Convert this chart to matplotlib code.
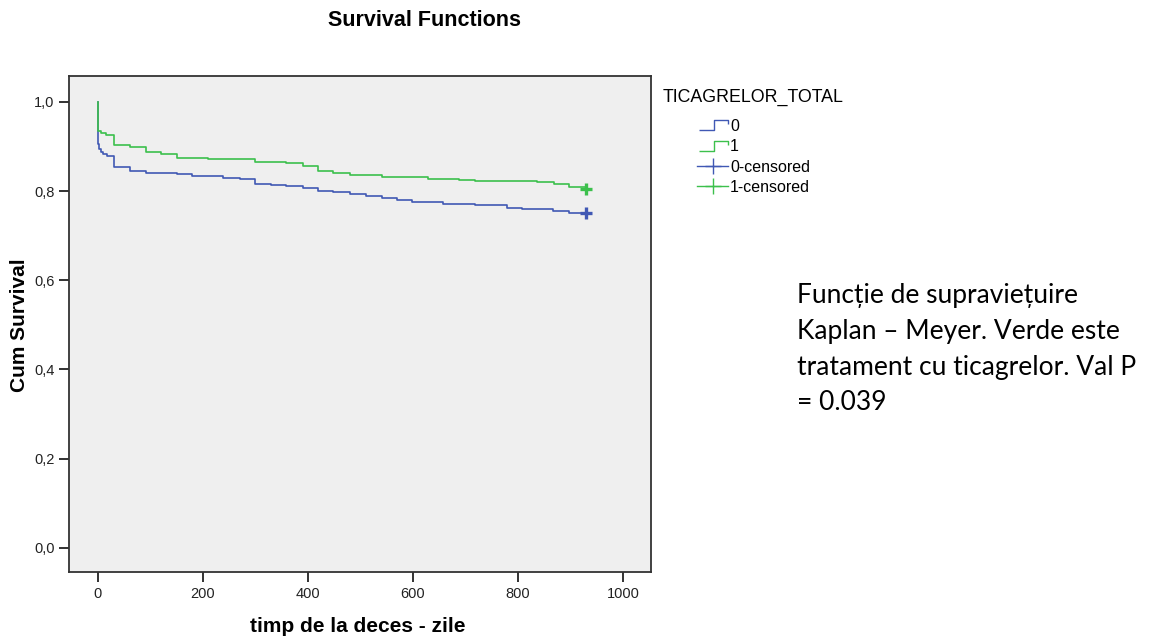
import matplotlib
matplotlib.use("Agg")
import matplotlib.pyplot as plt
from matplotlib.lines import Line2D
from matplotlib.path import Path
from matplotlib.ticker import FuncFormatter

# Kaplan-Meier steps (day, cumulative survival after event)
days_0 = [0, 0, 1, 3, 6, 10, 17, 30, 61, 91, 150, 180, 238, 270, 299, 330, 359,
          390, 419, 448, 480, 510, 540, 570, 598, 657, 718, 779, 808, 867, 897, 929]
surv_0 = [1.0, 0.93, 0.905, 0.895, 0.888, 0.883, 0.878, 0.855, 0.845, 0.841, 0.838,
          0.834, 0.829, 0.827, 0.816, 0.814, 0.812, 0.807, 0.801, 0.798, 0.793, 0.789,
          0.785, 0.780, 0.776, 0.771, 0.768, 0.763, 0.760, 0.756, 0.751, 0.751]
days_1 = [0, 0, 5, 15, 30, 61, 91, 120, 150, 210, 300, 359, 390, 419, 448, 480,
          540, 629, 688, 718, 836, 869, 897, 929]
surv_1 = [1.0, 0.935, 0.93, 0.925, 0.904, 0.898, 0.888, 0.883, 0.875, 0.871, 0.866,
          0.863, 0.857, 0.846, 0.840, 0.835, 0.831, 0.828, 0.824, 0.822, 0.820, 0.815,
          0.809, 0.809]
censor_day = [929, 929]
censor_surv = [0.750, 0.805]

group_labels = ["0", "1", "0-censored", "1-censored"]
x_ticks = [0, 200, 400, 600, 800, 1000]
y_ticks = [0.0, 0.2, 0.4, 0.6, 0.8, 1.0]
note_lines = ["Funcție de supraviețuire", "Kaplan – Meyer. Verde este",
              "tratament cu ticagrelor. Val P", "= 0.039"]

BLUE = "#4058b4"
GREEN = "#3cc04c"
W, H = 1151, 639

plt.rcParams["font.family"] = ["Liberation Sans", "DejaVu Sans"]
fig = plt.figure(figsize=(W / 100, H / 100), dpi=100)
ax = fig.add_axes([69 / W, 1 - 572 / H, (651 - 69) / W, (572 - 76) / H])
ax.set_facecolor("#efefef")

ax.step(days_0, surv_0, where="post", color=BLUE, lw=1.2)
ax.step(days_1, surv_1, where="post", color=GREEN, lw=1.2)
ax.plot(censor_day[0], censor_surv[0], "+", color=BLUE, ms=9, mew=2.4)
ax.plot(censor_day[1], censor_surv[1], "+", color=GREEN, ms=9, mew=2.4)

ax.set_xlim(-55, 1053)
ax.set_ylim(-0.054, 1.058)
ax.set_xticks(x_ticks)
ax.set_yticks(y_ticks)
ax.yaxis.set_major_formatter(FuncFormatter(lambda v, p: f"{v:.1f}".replace(".", ",")))
ax.tick_params(direction="out", length=7.5, width=1.3, colors="#222222",
               labelsize=10.5, pad=3)
for s in ax.spines.values():
    s.set_color("#333333")
    s.set_linewidth(1.3)

fig.text(424 / W, 1 - 20 / H, "Survival Functions", ha="center", va="center",
         fontsize=15.5, fontweight="bold")
fig.text(358 / W, 1 - 627 / H, "timp de la deces - zile", ha="center", va="center",
         fontsize=15, fontweight="bold")
fig.text(20 / W, 1 - 325 / H, "Cum Survival", ha="center", va="center",
         rotation=90, fontsize=15, fontweight="bold")

# legend
step_icon = Path([(-14, -4.5), (1, -4.5), (1, 4.5), (15, 4.5), (15, 0.5)])
handles = [
    Line2D([], [], ls="none", marker=step_icon, ms=22, mfc="none", mec=BLUE, mew=1),
    Line2D([], [], ls="none", marker=step_icon, ms=22, mfc="none", mec=GREEN, mew=1),
    Line2D([], [], color=BLUE, marker="+", ms=11, lw=1),
    Line2D([], [], color=GREEN, marker="+", ms=11, lw=1),
]
fig.text(663 / W, 1 - 97 / H, "TICAGRELOR_TOTAL", ha="left", va="center", fontsize=12.8)
fig.legend(handles, group_labels, loc="upper left", bbox_to_anchor=(697 / W, 1 - 119 / H),
           frameon=False, fontsize=11.5, handlelength=1.95, handletextpad=0.12,
           labelspacing=0.33, borderpad=0, borderaxespad=0)

for i, line in enumerate(note_lines):
    fig.text(797 / W, 1 - (295 + 36 * i) / H, line, ha="left", va="center",
             fontsize=19, family=["Lato", "DejaVu Sans"])

fig.savefig("out.png", dpi=100)
